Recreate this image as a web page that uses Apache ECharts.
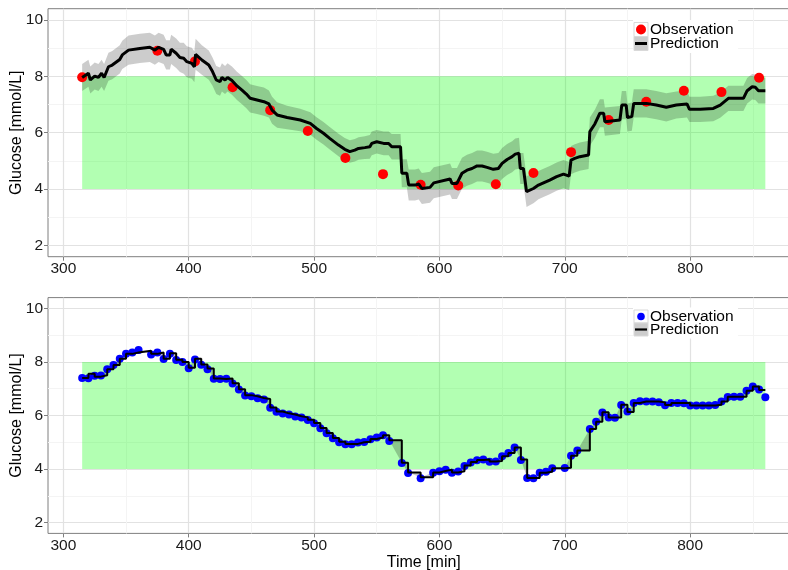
<!DOCTYPE html>
<html>
<head>
<meta charset="utf-8">
<script src="https://cdn.jsdelivr.net/npm/echarts@6/dist/echarts.min.js"></script>
<style>
  html, body { margin: 0; padding: 0; background: #ffffff; }
  #chart { width: 788px; height: 570px; }
</style>
</head>
<body>
<div id="chart"></div>
<script>
// ---- axis ticks ----
const xTicks = [300, 400, 500, 600, 700, 800];
const xMinorTicks = [350, 450, 550, 650, 750, 850];
const yTicks = [2, 4, 6, 8, 10];
const yMinorTicks = [3, 5, 7, 9];
const xRange = [287.75, 887.25];
const yRange = [1.6, 10.4];

// ---- target glucose zone ----
const targetStart = 315;
const targetEnd = 860;
const targetLow = 4;
const targetHigh = 8;

// ---- upper panel: sparse observations (every 30 min) ----
const obsTopT = [315, 375, 405, 435, 465, 495, 525, 555, 585, 615, 645, 675, 705, 735, 765, 795, 825, 855];
const obsTopV = [7.97, 8.91, 8.53, 7.61, 6.80, 6.06, 5.10, 4.53, 4.15, 4.13, 4.17, 4.57, 5.31, 6.45, 7.10, 7.49, 7.44, 7.95];

// ---- upper panel: prediction and its uncertainty half-width ----
const predTopT = [315, 320, 321.5, 325, 328, 330.5, 332.5, 336, 339, 345, 347, 352, 361, 369, 373, 376, 380, 382, 385, 386,
  390, 393, 396, 398.5, 402.5, 404.5, 405.5, 410.5, 416, 419, 422, 425, 426.5, 429, 431, 434.5, 438.5, 442.5, 446, 449,
  454.5, 460, 464, 466.5, 470.5, 478.5, 489, 497, 502, 507.5, 512.5, 519.5, 524.5, 528.5, 532.5, 535.5, 540.5, 544.5, 546, 550,
  555.5, 559.5, 562, 569, 570, 574, 575.5, 580.5, 583.5, 586, 592.5, 595.5, 608.5, 610, 614, 618, 622, 626, 630, 634,
  638, 643, 647, 650, 654, 658, 660.5, 663.5, 664.5, 667, 669.5, 675, 679, 683, 688, 693.5, 699, 703.5, 705, 708,
  712, 719, 720, 724, 728, 731, 732, 744, 745.5, 749, 750, 753.5, 755, 765, 773, 781, 789, 797.5, 799.5, 808,
  818.5, 824, 830.5, 842.5, 845.5, 849.5, 852, 854.5, 860];
const predTopV = [7.96, 8.11, 7.87, 8.01, 7.96, 8.11, 7.96, 8.34, 8.40, 8.60, 8.76, 8.93, 8.99, 9.03, 8.93, 9.03, 8.96, 8.76, 8.76, 8.96,
  8.82, 8.67, 8.64, 8.52, 8.46, 8.34, 8.78, 8.58, 8.40, 8.17, 7.87, 7.81, 7.96, 7.87, 7.96, 7.85, 7.66, 7.51, 7.37, 7.22,
  7.16, 7.10, 7.02, 6.80, 6.63, 6.54, 6.45, 6.33, 6.15, 5.98, 5.80, 5.56, 5.41, 5.33, 5.38, 5.44, 5.47, 5.50, 5.62, 5.68,
  5.62, 5.62, 5.50, 5.50, 4.56, 4.56, 4.14, 4.14, 4.18, 4.02, 4.06, 4.22, 4.36, 4.20, 4.20, 4.56, 4.67, 4.73, 4.82, 4.82,
  4.77, 4.70, 4.73, 4.91, 5.05, 5.15, 5.24, 5.27, 4.73, 4.73, 3.91, 4.02, 4.14, 4.22, 4.32, 4.44, 4.53, 4.46, 5.03, 5.09,
  5.15, 5.21, 6.04, 6.31, 6.69, 6.69, 6.39, 6.45, 6.98, 6.98, 6.54, 6.57, 7.04, 7.04, 6.98, 6.90, 6.98, 7.02, 6.83, 6.83,
  6.86, 6.98, 7.22, 7.22, 7.49, 7.63, 7.61, 7.49, 7.49];
const predTopSpread = [0.48, 0.48, 0.48, 0.48, 0.48, 0.48, 0.48, 0.50, 0.50, 0.50, 0.50, 0.52, 0.52, 0.52, 0.52, 0.52, 0.52, 0.52, 0.52, 0.52,
  0.52, 0.52, 0.55, 0.55, 0.55, 0.55, 0.55, 0.52, 0.52, 0.50, 0.50, 0.50, 0.50, 0.50, 0.50, 0.50, 0.50, 0.50, 0.50, 0.50,
  0.50, 0.50, 0.48, 0.48, 0.45, 0.42, 0.40, 0.40, 0.40, 0.40, 0.40, 0.40, 0.40, 0.40, 0.40, 0.40, 0.40, 0.42, 0.42, 0.42,
  0.42, 0.42, 0.45, 0.45, 0.50, 0.50, 0.55, 0.55, 0.55, 0.55, 0.55, 0.55, 0.55, 0.55, 0.55, 0.55, 0.55, 0.55, 0.55, 0.55,
  0.55, 0.55, 0.55, 0.55, 0.55, 0.55, 0.55, 0.55, 0.55, 0.55, 0.55, 0.52, 0.50, 0.50, 0.50, 0.50, 0.50, 0.50, 0.50, 0.50,
  0.50, 0.50, 0.50, 0.50, 0.50, 0.50, 0.50, 0.50, 0.50, 0.50, 0.50, 0.50, 0.50, 0.50, 0.50, 0.50, 0.48, 0.48, 0.45, 0.45,
  0.45, 0.45, 0.45, 0.45, 0.45, 0.45, 0.45, 0.45, 0.45];

// ---- lower panel: dense observations (every 5 min, a few missing) ----
const obsBotT = [315, 320, 325, 330, 335, 340, 345, 350, 355, 360, 370, 375, 380, 385, 390, 395, 400, 405, 410, 415,
  420, 425, 430, 435, 440, 445, 450, 455, 460, 465, 470, 475, 480, 485, 490, 495, 500, 505, 510, 515,
  520, 525, 530, 535, 540, 545, 550, 555, 560, 570, 575, 585, 595, 600, 605, 610, 615, 620, 625, 630,
  635, 640, 645, 650, 655, 660, 665, 670, 675, 680, 685, 690, 700, 705, 710, 720, 725, 730, 735, 740,
  745, 750, 755, 760, 765, 770, 775, 780, 785, 790, 795, 800, 805, 810, 815, 820, 825, 830, 835, 840,
  845, 850, 855, 860];
const obsBotV = [7.40, 7.39, 7.48, 7.49, 7.73, 7.88, 8.12, 8.30, 8.35, 8.44, 8.28, 8.35, 8.11, 8.30, 8.07, 8.00, 7.76, 8.09, 7.89, 7.73,
  7.37, 7.36, 7.37, 7.19, 6.97, 6.75, 6.72, 6.64, 6.60, 6.29, 6.14, 6.07, 6.04, 5.96, 5.93, 5.83, 5.71, 5.52, 5.34, 5.15,
  5.00, 4.93, 4.93, 4.99, 5.01, 5.11, 5.18, 5.26, 5.05, 4.23, 3.85, 3.66, 3.86, 3.92, 3.98, 3.86, 3.91, 4.12, 4.25, 4.33,
  4.36, 4.27, 4.28, 4.48, 4.60, 4.81, 4.34, 3.67, 3.66, 3.86, 3.90, 4.03, 4.04, 4.50, 4.69, 5.50, 5.77, 6.11, 5.93, 5.92,
  6.39, 6.15, 6.47, 6.53, 6.52, 6.52, 6.49, 6.38, 6.47, 6.47, 6.46, 6.37, 6.37, 6.37, 6.37, 6.39, 6.52, 6.69, 6.70, 6.70,
  6.92, 7.08, 6.97, 6.68];

// ---- lower panel: prediction (held until the next update) ----
const predBotT = [315, 320, 325, 330, 335, 340, 345, 350, 355, 360, 370, 375, 380, 385, 390, 395, 400, 405, 410, 415,
  420, 425, 430, 435, 440, 445, 450, 455, 460, 465, 470, 475, 480, 485, 490, 495, 500, 505, 510, 515,
  520, 525, 530, 535, 540, 545, 550, 555, 560, 570, 575, 585, 595, 600, 605, 610, 615, 620, 625, 630,
  635, 640, 645, 650, 655, 660, 665, 670, 675, 680, 685, 690, 700, 705, 710, 720, 725, 730, 735, 740,
  745, 750, 755, 760, 765, 770, 775, 780, 785, 790, 795, 800, 805, 810, 815, 820, 825, 830, 835, 840,
  845, 850, 855, 860];
const predBotV = [7.40, 7.56, 7.45, 7.50, 7.73, 7.88, 8.12, 8.30, 8.35, 8.42, 8.30, 8.35, 8.12, 8.32, 8.08, 8.00, 7.78, 8.12, 7.90, 7.75,
  7.38, 7.36, 7.38, 7.20, 6.98, 6.76, 6.72, 6.65, 6.62, 6.30, 6.15, 6.08, 6.04, 5.97, 5.93, 5.84, 5.72, 5.53, 5.35, 5.16,
  5.02, 4.94, 4.94, 5.00, 5.02, 5.12, 5.18, 5.26, 5.08, 4.24, 3.87, 3.70, 3.87, 3.93, 3.98, 3.87, 3.92, 4.13, 4.26, 4.34,
  4.36, 4.28, 4.30, 4.48, 4.60, 4.81, 4.36, 3.67, 3.67, 3.86, 3.90, 4.03, 4.05, 4.50, 4.69, 5.50, 5.77, 6.12, 5.93, 5.93,
  6.40, 6.13, 6.47, 6.52, 6.52, 6.52, 6.49, 6.39, 6.47, 6.47, 6.47, 6.37, 6.37, 6.37, 6.37, 6.40, 6.52, 6.70, 6.70, 6.70,
  6.92, 7.08, 6.95, 6.95];

const FONT = '"Liberation Sans", Arial, Helvetica, sans-serif';
const BORDER = '#7f7f7f';
const MAJOR = '#e2e2e2';
const MINOR = '#f4f4f4';
const TICK_FONT = 15.5;
const TITLE_FONT = 16;

const pairs = (ts, vs) => ts.map((t, i) => [t, vs[i]]);

function majorX(gridIndex, withName) {
  return {
    type: 'value', gridIndex, position: 'bottom', min: xRange[0], max: xRange[1],
    axisLine: { show: false },
    axisTick: { show: true, length: 4, lineStyle: { color: BORDER, width: 1 }, customValues: xTicks },
    axisLabel: { customValues: xTicks, fontSize: TICK_FONT, color: '#1a1a1a', fontFamily: FONT, margin: 4 },
    splitLine: { show: true, lineStyle: { color: MAJOR, width: 1.2 } },
    name: withName ? 'Time [min]' : '', nameLocation: 'middle', nameGap: 19,
    nameTextStyle: { fontSize: TITLE_FONT, color: '#000', fontFamily: FONT }
  };
}
function minorX(gridIndex) {
  return {
    type: 'value', gridIndex, position: 'bottom', min: xRange[0], max: xRange[1],
    axisLine: { show: false },
    axisTick: { show: false, customValues: xMinorTicks },
    axisLabel: { show: false, customValues: xMinorTicks },
    splitLine: { show: true, lineStyle: { color: MINOR, width: 1 } }
  };
}
function majorY(gridIndex) {
  return {
    type: 'value', gridIndex, position: 'left', min: yRange[0], max: yRange[1],
    axisLine: { show: false },
    axisTick: { show: true, length: 4, lineStyle: { color: BORDER, width: 1 }, customValues: yTicks },
    axisLabel: { customValues: yTicks, fontSize: TICK_FONT, color: '#1a1a1a', fontFamily: FONT, margin: 5 },
    splitLine: { show: true, lineStyle: { color: MAJOR, width: 1.2 } },
    name: 'Glucose [mmol/L]', nameLocation: 'middle', nameGap: 23, nameRotate: 90, nameMoveOverlap: false,
    nameTextStyle: { fontSize: TITLE_FONT, color: '#000', fontFamily: FONT }
  };
}
function minorY(gridIndex) {
  return {
    type: 'value', gridIndex, position: 'left', min: yRange[0], max: yRange[1],
    axisLine: { show: false },
    axisTick: { show: false, customValues: yMinorTicks },
    axisLabel: { show: false, customValues: yMinorTicks },
    splitLine: { show: true, lineStyle: { color: MINOR, width: 1 } }
  };
}

// green target zone rectangle
function zoneSeries(xi, yi) {
  return {
    type: 'custom', xAxisIndex: xi, yAxisIndex: yi, z: 1, silent: true,
    data: [[targetStart, targetLow, targetEnd, targetHigh]],
    encode: { x: [0, 2], y: [1, 3] },
    renderItem(params, api) {
      const a = api.coord([api.value(0), api.value(3)]);
      const b = api.coord([api.value(2), api.value(1)]);
      return { type: 'rect', shape: { x: a[0], y: a[1], width: b[0] - a[0], height: b[1] - a[1] },
        style: { fill: 'rgba(0,255,0,0.3)' } };
    }
  };
}

// uncertainty ribbon around the upper prediction
function ribbonSeries(xi, yi, ts, vs, spread) {
  return {
    type: 'custom', xAxisIndex: xi, yAxisIndex: yi, z: 2, silent: true,
    data: [[ts[0], vs[0]]],
    encode: { x: 0, y: 1 },
    renderItem(params, api) {
      const pts = [];
      for (let i = 0; i < ts.length; i++) pts.push(api.coord([ts[i], vs[i] + spread[i]]));
      for (let i = ts.length - 1; i >= 0; i--) pts.push(api.coord([ts[i], vs[i] - spread[i]]));
      return { type: 'polygon', shape: { points: pts }, style: { fill: 'rgba(0,0,0,0.2)' } };
    }
  };
}

// wedges between the held prediction and the straight path to the next update
function wedgeSeries(xi, yi, ts, vs) {
  const segs = ts.slice(0, -1).map((t, i) => [t, vs[i], ts[i + 1], vs[i + 1]]);
  return {
    type: 'custom', xAxisIndex: xi, yAxisIndex: yi, z: 2, silent: true,
    data: segs,
    encode: { x: [0, 2], y: [1, 3] },
    renderItem(params, api) {
      const p0 = api.coord([api.value(0), api.value(1)]);
      const p1 = api.coord([api.value(2), api.value(1)]);
      const p2 = api.coord([api.value(2), api.value(3)]);
      return { type: 'polygon', shape: { points: [p0, p1, p2] }, style: { fill: 'rgba(0,0,0,0.22)' } };
    }
  };
}

// legend drawn as plain graphic elements
function legendGraphic(top, dotColor, dotR, rowH, barH) {
  const x0 = 633, keyW = 14;
  const r1 = top + 2.5, r2 = r1 + rowH;
  return [
    { type: 'rect', shape: { x: x0, y: top, width: 105, height: rowH * 2 + 5 }, style: { fill: '#ffffff' }, z: 50 },
    { type: 'rect', shape: { x: x0 + 1, y: r1, width: keyW, height: rowH }, style: { fill: '#ffffff', stroke: '#d9d9d9', lineWidth: 1 }, z: 51 },
    { type: 'circle', shape: { cx: x0 + 1 + keyW / 2, cy: r1 + rowH / 2, r: dotR }, style: { fill: dotColor }, z: 52 },
    { type: 'rect', shape: { x: x0 + 1, y: r2, width: keyW, height: rowH }, style: { fill: '#cccccc', stroke: '#d9d9d9', lineWidth: 1 }, z: 51 },
    { type: 'rect', shape: { x: x0 + 2, y: r2 + rowH / 2 - barH / 2, width: keyW - 2, height: barH }, style: { fill: '#000000' }, z: 52 },
    { type: 'text', x: x0 + 17, y: r1 + rowH / 2, style: { text: 'Observation', font: '15.5px ' + FONT, fill: '#000', textVerticalAlign: 'middle' }, z: 52 },
    { type: 'text', x: x0 + 17, y: r2 + rowH / 2, style: { text: 'Prediction', font: '15.5px ' + FONT, fill: '#000', textVerticalAlign: 'middle' }, z: 52 }
  ];
}

const chart = echarts.init(document.getElementById('chart'), null, { renderer: 'canvas' });
chart.setOption({
  animation: false,
  backgroundColor: '#ffffff',
  textStyle: { fontFamily: FONT },
  grid: [
    { left: 48, top: 8.7, width: 751.5, height: 248, show: true, borderColor: BORDER, borderWidth: 1, backgroundColor: '#ffffff', containLabel: false, outerBoundsMode: 'none' },
    { left: 48, top: 297.6, width: 751.5, height: 235.8, show: true, borderColor: BORDER, borderWidth: 1, backgroundColor: '#ffffff', containLabel: false, outerBoundsMode: 'none' }
  ],
  xAxis: [minorX(0), majorX(0, false), minorX(1), majorX(1, true)],
  yAxis: [minorY(0), majorY(0), minorY(1), majorY(1)],
  series: [
    zoneSeries(1, 1),
    ribbonSeries(1, 1, predTopT, predTopV, predTopSpread),
    { type: 'scatter', xAxisIndex: 1, yAxisIndex: 1, z: 3, symbolSize: 10, itemStyle: { color: '#ff0000', opacity: 1 },
      data: pairs(obsTopT, obsTopV) },
    { type: 'line', xAxisIndex: 1, yAxisIndex: 1, z: 4, showSymbol: false, lineStyle: { color: '#000', width: 3 },
      data: pairs(predTopT, predTopV) },

    zoneSeries(3, 3),
    wedgeSeries(3, 3, predBotT, predBotV),
    { type: 'scatter', xAxisIndex: 3, yAxisIndex: 3, z: 3, symbolSize: 8, itemStyle: { color: '#0000ff', opacity: 1 },
      data: pairs(obsBotT, obsBotV) },
    { type: 'line', xAxisIndex: 3, yAxisIndex: 3, z: 4, showSymbol: false, step: 'end', lineStyle: { color: '#000', width: 2 },
      data: pairs(predBotT, predBotV) }
  ],
  graphic: legendGraphic(20, '#ff0000', 5, 14, 3).concat(legendGraphic(307.5, '#0000ff', 3.8, 13, 2.2))
});
</script>
</body>
</html>
